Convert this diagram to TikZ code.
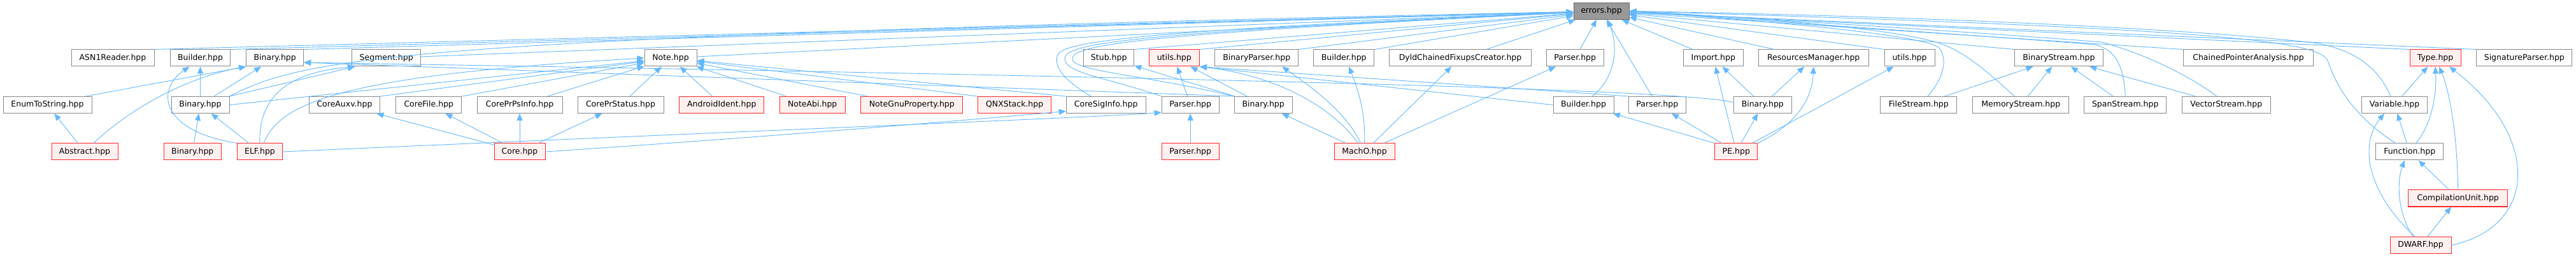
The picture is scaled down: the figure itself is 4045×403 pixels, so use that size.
\documentclass[tikz,border=0pt]{standalone}
\usepackage{fontspec}
\newfontfamily\dejavu{DejaVu Sans}
\usetikzlibrary{arrows.meta}
\definecolor{edgec}{RGB}{99,184,255}
\definecolor{boxb}{RGB}{136,136,136}
\definecolor{redb}{RGB}{255,40,40}
\definecolor{redf}{RGB}{255,240,240}
\definecolor{rootf}{RGB}{153,153,153}
\definecolor{rootb}{RGB}{102,102,102}
\tikzset{
  file/.style={draw=boxb, fill=white, line width=1pt, minimum height=26pt, inner xsep=0pt, inner ysep=0pt, text=black, font={\dejavu\fontsize{12.5pt}{14pt}\selectfont}},
  trunc/.style={file, draw=redb, fill=redf},
  root/.style={file, draw=rootb, fill=rootf},
  dep/.style={draw=edgec, line width=0.9pt, -{Triangle[length=11pt,width=9pt]}}
}
\begin{document}
\begin{tikzpicture}[x=1pt,y=-1pt]
\fill[white] (0,0) rectangle (4045,403);
\useasboundingbox (0,0) rectangle (4045,403);
% row 1
\node[root, minimum width=87pt] (err) at (2514.5,17.5) {errors.hpp};
% row 2
\node[file, minimum width=130pt] (asn) at (177,91) {ASN1Reader.hpp};
\node[file, minimum width=94pt] (bldA) at (314.5,91) {Builder.hpp};
\node[file, minimum width=90pt] (binA) at (431.7,91) {Binary.hpp};
\node[file, minimum width=108pt] (seg) at (606.7,91) {Segment.hpp};
\node[file, minimum width=82pt] (note) at (1053,91) {Note.hpp};
\node[file, minimum width=79pt] (stub) at (1741.2,91) {Stub.hpp};
\node[trunc, minimum width=79pt] (utlA) at (1843.8,91) {utils.hpp};
\node[file, minimum width=131pt] (bpar) at (1973.2,91) {BinaryParser.hpp};
\node[file, minimum width=95pt] (bldB) at (2110.2,91) {Builder.hpp};
\node[file, minimum width=223pt] (dyld) at (2293,91) {DyldChainedFixupsCreator.hpp};
\node[file, minimum width=90pt] (parC) at (2473.2,91) {Parser.hpp};
\node[file, minimum width=94pt] (imp) at (2690.3,91) {Import.hpp};
\node[file, minimum width=173pt] (rsm) at (2847.7,91) {ResourcesManager.hpp};
\node[file, minimum width=79pt] (utlB) at (2998.5,91) {utils.hpp};
\node[file, minimum width=139pt] (bstr) at (3232.9,91) {BinaryStream.hpp};
\node[file, minimum width=204pt] (cpa) at (3530.5,91) {ChainedPointerAnalysis.hpp};
\node[trunc, minimum width=80pt] (type) at (3824,91) {Type.hpp};
\node[file, minimum width=150pt] (sigp) at (3963.8,91) {SignatureParser.hpp};
% row 3
\node[file, minimum width=139pt] (enum) at (74.5,164.5) {EnumToString.hpp};
\node[file, minimum width=91pt] (binB) at (314.5,164.5) {Binary.hpp};
\node[file, minimum width=111pt] (caux) at (541,164.5) {CoreAuxv.hpp};
\node[file, minimum width=103pt] (cfil) at (673.3,164.5) {CoreFile.hpp};
\node[file, minimum width=134pt] (cpps) at (816,164.5) {CorePrPsInfo.hpp};
\node[file, minimum width=135pt] (cprs) at (974.5,164.5) {CorePrStatus.hpp};
\node[trunc, minimum width=133pt] (andr) at (1133.3,164.5) {AndroidIdent.hpp};
\node[trunc, minimum width=103pt] (nabi) at (1275.7,164.5) {NoteAbi.hpp};
\node[trunc, minimum width=160pt] (ngnu) at (1431.8,164.5) {NoteGnuProperty.hpp};
\node[trunc, minimum width=115pt] (qnx) at (1593.2,164.5) {QNXStack.hpp};
\node[file, minimum width=125pt] (csi) at (1736.7,164.5) {CoreSigInfo.hpp};
\node[file, minimum width=90pt] (parA) at (1869.2,164.5) {Parser.hpp};
\node[file, minimum width=91pt] (binD) at (1983.7,164.5) {Binary.hpp};
\node[file, minimum width=95pt] (bldC) at (2486.5,164.5) {Builder.hpp};
\node[file, minimum width=90pt] (parD) at (2602.3,164.5) {Parser.hpp};
\node[file, minimum width=91pt] (binE) at (2767.8,164.5) {Binary.hpp};
\node[file, minimum width=120pt] (fstr) at (3012.8,164.5) {FileStream.hpp};
\node[file, minimum width=151pt] (mstr) at (3173.3,164.5) {MemoryStream.hpp};
\node[file, minimum width=129pt] (sstr) at (3337.2,164.5) {SpanStream.hpp};
\node[file, minimum width=139pt] (vstr) at (3495.8,164.5) {VectorStream.hpp};
\node[file, minimum width=103pt] (var) at (3760,164.5) {Variable.hpp};
% row 4
\node[trunc, minimum width=104pt] (abst) at (133,238) {Abstract.hpp};
\node[trunc, minimum width=90pt] (binC) at (302.3,238) {Binary.hpp};
\node[trunc, minimum width=71pt] (elf) at (408,238) {ELF.hpp};
\node[trunc, minimum width=80pt] (core) at (816,238) {Core.hpp};
\node[trunc, minimum width=90pt] (parB) at (1869.2,238) {Parser.hpp};
\node[trunc, minimum width=95pt] (macho) at (2142.5,238) {MachO.hpp};
\node[trunc, minimum width=67pt] (pe) at (2726.3,238) {PE.hpp};
\node[file, minimum width=105.5pt] (func) at (3783.7,238) {Function.hpp};
% rows 5-6
\node[trunc, minimum width=156pt] (cu) at (3859.7,311) {CompilationUnit.hpp};
\node[trunc, minimum width=96pt] (dwarf) at (3801,384.5) {DWARF.hpp};

% ---- edges to errors.hpp
\draw[dep] (asn.north east) -- (err);
\draw[dep] (bldA.north east) -- (err);
\draw[dep] (binA.north east) -- (err);
\draw[dep] (seg) -- (err);
\draw[dep] (note) -- (err);
\draw[dep] (stub.north east) -- (err);
\draw[dep] (utlA.north east) -- (err);
\draw[dep] (bpar.north east) -- (err);
\draw[dep] (bldB.north east) -- (err);
\draw[dep] (dyld) -- (err);
\draw[dep] (parC) -- (err);
\draw[dep] (imp) -- (err);
\draw[dep] (rsm) -- (err);
\draw[dep] (utlB.north west) -- (err);
\draw[dep] (bstr.north west) -- (err);
\draw[dep] (cpa.north west) -- (err);
\draw[dep] (type.north west) -- (err);
\draw[dep] (sigp.north west) -- (err);
\draw[dep] (binB.north east) .. controls (480,90) and (620,58) .. (err);
\draw[dep] ([xshift=-24pt]csi.north) .. controls (1675,128) and (1655,108) .. (1660,88) .. controls (1665,68) and (1740,50) .. (err);
\draw[dep] (parA.north west) .. controls (1740,122) and (1672,115) .. (1672,92) .. controls (1672,70) and (1745,53) .. (err);
\draw[dep] (binD.north west) .. controls (1800,118) and (1690,112) .. (1684,94) .. controls (1680,72) and (1755,55) .. (err);
\draw[dep] ([xshift=14pt]bldC.north) .. controls (2540,118) and (2540,70) .. ([xshift=10pt]err.south);
\draw[dep] (parD) -- (err);
\draw[dep] ([xshift=14pt]fstr.north) .. controls (3050,125) and (3060,95) .. (3045,75) .. controls (3020,55) and (2800,35) .. (err.east);
\draw[dep] ([xshift=-10pt]mstr.north) .. controls (3120,112) and (3085,80) .. (3040,66) .. controls (2950,40) and (2700,25) .. (err.east);
\draw[dep] (sstr.north) .. controls (3335,100) and (3320,78) .. (3290,70) .. controls (3100,55) and (2800,35) .. (err.east);
\draw[dep] ([xshift=-15pt]vstr.north) .. controls (3440,120) and (3370,85) .. (3300,66) .. controls (3100,50) and (2800,32) .. (err.east);
\draw[dep] ([xshift=-6pt]var.north) .. controls (3738,115) and (3710,82) .. (3640,68) .. controls (3450,45) and (3000,25) .. (err.east);
\draw[dep] ([xshift=-22pt]func.north) .. controls (3700,185) and (3670,140) .. (3655,95) .. controls (3640,65) and (3500,45) .. (err.east);

% ---- ELF / Abstract side
\draw[dep] (abst) -- (enum);
\draw[dep] ([xshift=60pt]enum.north) -- (binA.south west);
\draw[dep] ([xshift=14pt]abst.north) .. controls (210,165) and (300,120) .. (binA.south west);
\draw[dep] (binB) -- (bldA);
\draw[dep] (binB) -- (binA);
\draw[dep] (binB.north east) -- ([xshift=5pt]seg.south west);
\draw[dep] (binB.east) -- (note);
\draw[dep] (binC) -- (binB);
\draw[dep] (elf) -- (binB);
\draw[dep] (elf.north west) .. controls (250,205) and (245,140) .. ([xshift=-17pt]bldA.south);
\draw[dep] (elf.north) .. controls (405,140) and (470,112) .. ([xshift=5pt]seg.south west);
\draw[dep] ([xshift=6pt]elf.north) .. controls (440,160) and (540,118) .. (note.west);
\draw[dep] (elf.east) .. controls (1300,200) and (1700,185) .. ([yshift=-12pt]parA.west);
\draw[dep] (core) -- (caux);
\draw[dep] (core) -- (cfil);
\draw[dep] (core) -- (cpps);
\draw[dep] (core) -- (cprs);
\draw[dep] (core.east) .. controls (1200,215) and (1500,190) .. ([yshift=-10pt]csi.west);
\draw[dep] (caux.north east) -- (note);
\draw[dep] (cfil.north east) -- (note);
\draw[dep] (cpps) -- (note);
\draw[dep] (cprs) -- (note);
\draw[dep] (andr) -- (note);
\draw[dep] (nabi) -- (note);
\draw[dep] (ngnu) -- (note);
\draw[dep] (qnx.north west) -- (note);
\draw[dep] (csi.north west) -- (note);

% ---- MachO side
\draw[dep] (binD) -- (stub);
\draw[dep] (binD) -- (utlA);
\draw[dep] (parA) -- (utlA);
\draw[dep] (parB) -- (parA);
\draw[dep] (binD.north west) -- ([yshift=-7pt]binA.east);
\draw[dep] ([yshift=4pt]binE.west) .. controls (2660,146) and (2300,128) .. ([yshift=-7pt]binA.east);
\draw[dep] (bldC.west) -- (utlA.south east);
\draw[dep] (parD.north west) -- (utlA.south east);
\draw[dep] (macho) -- (binD);
\draw[dep] ([xshift=-10pt]macho.north) .. controls (2090,165) and (2000,118) .. (utlA.south east);
\draw[dep] ([xshift=-6pt]macho.north) .. controls (2115,175) and (2050,130) .. ([xshift=40pt]bpar.south);
\draw[dep] (macho.north) .. controls (2145,170) and (2128,130) .. ([xshift=8pt]bldB.south);
\draw[dep] (macho) -- (dyld);
\draw[dep] (macho) -- (parC);

% ---- PE side
\draw[dep] (pe.north west) -- (bldC);
\draw[dep] (pe) -- (parD);
\draw[dep] (pe) -- (imp);
\draw[dep] (pe) -- (binE);
\draw[dep] (pe.north east) .. controls (2810,200) and (2845,165) .. (rsm.south);
\draw[dep] (pe) -- (utlB);
\draw[dep] (binE) -- (imp);
\draw[dep] (binE) -- (rsm);

% ---- streams
\draw[dep] (fstr) -- (bstr);
\draw[dep] (mstr) -- (bstr);
\draw[dep] (sstr) -- (bstr);
\draw[dep] (vstr) -- (bstr);

% ---- DWARF
\draw[dep] (var) -- (type);
\draw[dep] (func) -- (var);
\draw[dep] ([xshift=10pt]func.north) .. controls (3822,190) and (3826,140) .. (type.south);
\draw[dep] (cu) -- (func);
\draw[dep] (cu.north) .. controls (3858,200) and (3845,140) .. ([xshift=6pt]type.south);
\draw[dep] ([xshift=-9pt]dwarf.north) .. controls (3715,300) and (3705,225) .. ([xshift=-16pt]var.south);
\draw[dep] ([xshift=-12pt]dwarf.north) .. controls (3762,330) and (3765,280) .. ([xshift=-8pt]func.south);
\draw[dep] (dwarf) -- (cu);
\draw[dep] (dwarf.east) .. controls (3985,355) and (3990,215) .. ([xshift=22pt]type.south);
\end{tikzpicture}
\end{document}
